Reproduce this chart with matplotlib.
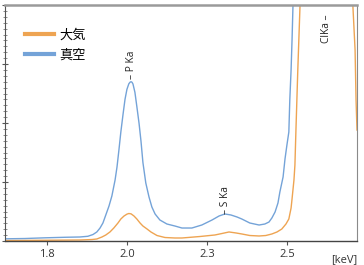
import matplotlib
matplotlib.use("Agg")
import matplotlib.pyplot as plt
from matplotlib.ticker import MultipleLocator

# energy [keV] and intensity (arbitrary units)
energy_vac = [1.619, 1.681, 1.744, 1.806, 1.853, 1.878, 1.894, 1.906, 1.916, 1.925,
              1.934, 1.944, 1.953, 1.963, 1.969, 1.975, 1.981, 1.988, 1.994, 2.000,
              2.006, 2.010, 2.013, 2.016, 2.019, 2.025, 2.031, 2.038, 2.044, 2.050,
              2.059, 2.069, 2.078, 2.088, 2.103, 2.125, 2.150, 2.172, 2.203, 2.234,
              2.266, 2.288, 2.306, 2.325, 2.344, 2.359, 2.384, 2.413, 2.431, 2.444,
              2.453, 2.463, 2.472, 2.478, 2.488, 2.494, 2.500, 2.506, 2.509, 2.513,
              2.516, 2.519, 2.525, 2.720]
counts_vac = [0.037, 0.042, 0.054, 0.063, 0.068, 0.080, 0.110, 0.153, 0.220, 0.305,
              0.441, 0.593, 0.763, 1.034, 1.254, 1.542, 1.847, 2.153, 2.400, 2.570,
              2.665, 2.692, 2.700, 2.690, 2.660, 2.520, 2.280, 1.990, 1.690, 1.330,
              0.983, 0.746, 0.576, 0.458, 0.356, 0.288, 0.254, 0.220, 0.220, 0.271,
              0.356, 0.424, 0.458, 0.441, 0.407, 0.373, 0.305, 0.271, 0.288, 0.322,
              0.390, 0.492, 0.644, 0.831, 1.085, 1.390, 1.627, 1.847, 2.390, 2.898,
              3.407, 4.000, 5.000, 9.000]

energy_air = [1.619, 1.728, 1.853, 1.891, 1.906, 1.922, 1.934, 1.947, 1.959, 1.972,
              1.981, 1.991, 2.000, 2.006, 2.013, 2.022, 2.031, 2.041, 2.050, 2.063,
              2.075, 2.094, 2.119, 2.150, 2.172, 2.228, 2.275, 2.297, 2.319, 2.341,
              2.359, 2.384, 2.413, 2.434, 2.453, 2.469, 2.484, 2.497, 2.506, 2.513,
              2.516, 2.522, 2.525, 2.528, 2.534, 2.541, 2.550, 2.681, 2.706, 2.713,
              2.716, 2.719]
counts_air = [0.008, 0.012, 0.017, 0.025, 0.034, 0.068, 0.102, 0.153, 0.220, 0.305,
              0.373, 0.424, 0.455, 0.466, 0.460, 0.424, 0.373, 0.305, 0.254, 0.203,
              0.153, 0.093, 0.059, 0.051, 0.051, 0.076, 0.102, 0.127, 0.153, 0.136,
              0.119, 0.093, 0.085, 0.093, 0.119, 0.153, 0.203, 0.288, 0.373, 0.559,
              0.712, 1.034, 1.288, 1.847, 2.898, 4.000, 5.000, 5.000, 4.000, 3.237,
              2.390, 1.881]

tick_pos = [1.75, 2.0, 2.25, 2.5]
tick_labels = ["1.8", "2.0", "2.3", "2.5"]

peaks = [("– P Ka", 2.013, 2.75, "bottom"),
         ("– S Ka", 2.309, 0.46, "bottom"),
         ("ClKa –", 2.624, 3.84, "top")]

orange = "#eea452"
blue = "#74a3d8"

plt.rcParams["font.family"] = ["Open Sans", "Noto Sans CJK JP", "DejaVu Sans"]

fig = plt.figure(figsize=(3.64, 2.65), dpi=100)
ax = fig.add_axes([5 / 364, 24 / 265, 352 / 364, 236 / 265])

ax.plot(energy_air, counts_air, color=orange, lw=1.0, label="大気",
        solid_joinstyle="round")
ax.plot(energy_vac, counts_vac, color=blue, lw=1.0, label="真空",
        solid_joinstyle="round")

ax.set_xlim(1.619, 2.719)
ax.set_ylim(0, 4)

for text, x, y, va in peaks:
    ax.text(x, y, text, rotation=90, ha="center", va=va, fontsize=7.3, color="#222222")

ax.set_xticks(tick_pos)
ax.set_xticklabels(tick_labels)
ax.tick_params(axis="x", direction="out", length=3, width=0.8, colors="#555555",
               labelsize=8, labelcolor="#333333", pad=3)
ax.yaxis.set_major_locator(MultipleLocator(1))
ax.yaxis.set_minor_locator(MultipleLocator(0.1))
ax.tick_params(axis="y", which="major", direction="inout", length=4, width=0.8,
               colors="#555555", labelleft=False)
ax.tick_params(axis="y", which="minor", direction="inout", length=2.5, width=0.6,
               colors="#777777")

ax.text(1.0, -0.055, "[keV]", transform=ax.transAxes, ha="right", va="top",
        fontsize=8, color="#333333")

ax.spines["top"].set_color("#9a9a9a")
ax.spines["top"].set_linewidth(1.8)
ax.spines["right"].set_color("#8a8a8a")
ax.spines["right"].set_linewidth(0.8)
ax.spines["left"].set_color("#555555")
ax.spines["left"].set_linewidth(0.8)
ax.spines["bottom"].set_color("#444444")
ax.spines["bottom"].set_linewidth(1.0)

leg = ax.legend(loc="upper left", bbox_to_anchor=(0.057, 0.90), frameon=False,
                fontsize=9.5, handlelength=2.2, handletextpad=0.4, labelspacing=0.5,
                borderaxespad=0, borderpad=0)
for line in leg.get_lines():
    line.set_linewidth(3)

fig.savefig("out.png", dpi=100)
